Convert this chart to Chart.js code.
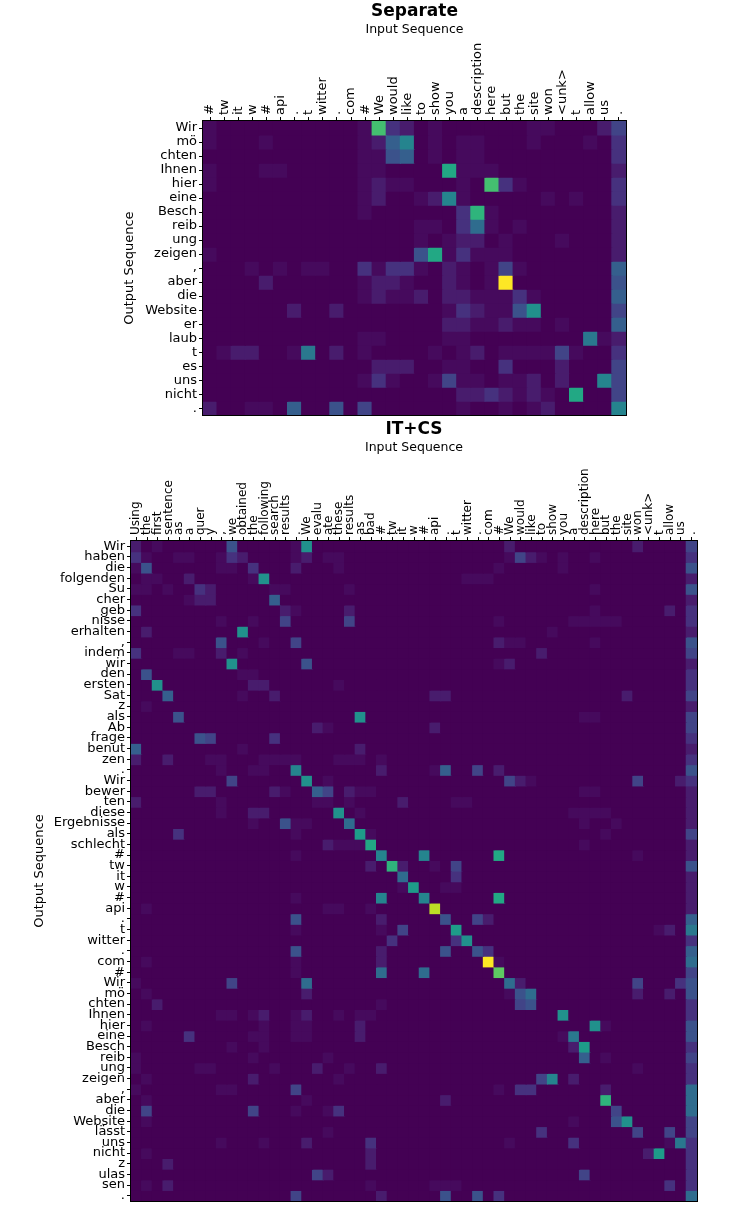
<!DOCTYPE html>
<html>
<head>
<meta charset="utf-8">
<script src="https://cdn.jsdelivr.net/npm/chart.js@4.4.0/dist/chart.umd.min.js"></script>
<style>
    body { margin: 0; background: #fff; width: 747px; height: 1214px; overflow: hidden; }
    canvas { position: absolute; left: 0; }
</style>
</head>
<body>
<canvas id="separate" width="747" height="425" style="top:0"></canvas>
<canvas id="itcs" width="747" height="814" style="top:400px"></canvas>
<script>
// Separate: tokens
const sepInput = ['#', 'tw', 'it', 'w', '#', 'api', '.', 't', 'witter', '.', 'com', '#', 'We', 'would', 'like', 'to', 'show', 'you', 'a', 'description', 'here', 'but', 'the', 'site', 'won', '<unk>', 't', 'allow', 'us', '.']
const sepOutput = ['Wir', 'mö', 'chten', 'Ihnen', 'hier', 'eine', 'Besch', 'reib', 'ung', 'zeigen', ',', 'aber', 'die', 'Website', 'er', 'laub', 't', 'es', 'uns', 'nicht', '.']

// IT+CS: tokens
const itcsInput = ['Using', 'the', 'first', 'sentence', 'as', 'a', 'quer', 'y', ',', 'we', 'obtained', 'the', 'following', 'search', 'results', '.', 'We', 'evalu', 'ate', 'these', 'results', 'as', 'bad', '#', 'tw', 'it', 'w', '#', 'api', '.', 't', 'witter', '.', 'com', '#', 'We', 'would', 'like', 'to', 'show', 'you', 'a', 'description', 'here', 'but', 'the', 'site', 'won', '<unk>', 't', 'allow', 'us', '.']
const itcsOutput = ['Wir', 'haben', 'die', 'folgenden', 'Su', 'cher', 'geb', 'nisse', 'erhalten', ',', 'indem', 'wir', 'den', 'ersten', 'Sat', 'z', 'als', 'Ab', 'frage', 'benut', 'zen', '.', 'Wir', 'bewer', 'ten', 'diese', 'Ergebnisse', 'als', 'schlecht', '#', 'tw', 'it', 'w', '#', 'api', '.', 't', 'witter', '.', 'com', '#', 'Wir', 'mö', 'chten', 'Ihnen', 'hier', 'eine', 'Besch', 'reib', 'ung', 'zeigen', ',', 'aber', 'die', 'Website', 'lässt', 'uns', 'nicht', 'z', 'ulas', 'sen', '.']

// attention weights, one char per cell
const LEVELS = '0123456789ABCDEFGHIJK'
const LEVEL_VALUES = [0, 0.025, 0.075, 0.14, 0.2, 0.25, 0.3, 0.35, 0.4, 0.45, 0.5,
    0.55, 0.6, 0.65, 0.7, 0.75, 0.8, 0.85, 0.9, 0.95, 1]

const sepWeights = [
    '1000000000 01E3201000 0001100024',
    '1000100000 0126901011 0001000103',
    '0000000000 0115601011 0000000003',
    '1000110000 0110000C11 1000000002',
    '1000000000 0121100010 E310000003',
    '0000000000 0120012910 0000101003',
    '0000000000 010000003D 1000000002',
    '0000000000 0000011037 1010000002',
    '0000000000 0000010122 0100010002',
    '1000000000 000005C131 1100000002',
    '0001010110 0313310210 1410000006',
    '0000200000 0122100210 1K00000005',
    '0000000000 0121120221 1131000006',
    '0000002002 0000000132 115A000004',
    '0000000000 0000000221 1211010006',
    '0000000000 0110000110 0000000812',
    '0122001802 0100001012 0111141003',
    '0000000000 0022200110 0300020004',
    '0000000000 0131001411 0112020094',
    '0000000000 0000000022 321210C004',
    '2001106005 0400000010 0101200009'
]

const itcsWeights = [
    '2010000005 000001A000 0000000000 0000020000 0000000200 004',
    '3100110013 2000012011 0000000000 0000014210 1001000000 003',
    '1500000011 0300020001 0000000000 0000100000 1000000000 005',
    '0110020000 01A0000000 0000000000 0111000000 0000000000 002',
    '1101003200 0001100000 1000000000 0000000000 0001000000 005',
    '0000012200 0006000000 0000000000 0000000000 0000000000 002',
    '3000000000 0000210000 2000000000 0000000000 0001000000 203',
    '0000000010 0100400000 4000000000 0000100000 0111110000 003',
    '0200000000 A000000000 0000000000 0000000001 0000000000 002',
    '0000000050 0010040000 0000000000 0000211000 0001000000 005',
    '3000110020 1000000000 0000000000 0000000020 0000000000 004',
    '000000000A 0000005000 0000000000 0000120000 0000000000 002',
    '0500000000 1100000000 0000000000 0000000000 0000000000 003',
    '00A0000000 0220000001 0000000000 0000000000 0000000000 003',
    '0006000000 1002000000 0000000022 0000000000 0000002000 004',
    '0100000000 0000000000 0000000000 0000000000 0000000000 002',
    '0000500000 0000000000 0A00000000 0000000000 0011000000 004',
    '0000000000 0000000210 0000000020 0000000000 0000000000 004',
    '0000005400 0003000000 0000000000 0000000000 0000000000 003',
    '6000000000 1000000000 0200000000 0000000000 0000000000 002',
    '2002000110 0011110001 1101000000 0000000000 0000000000 003',
    '0000000010 0110090000 0002000016 0040200000 0000000000 005',
    '0000000004 000000A010 0000000000 0000042100 0000000400 023',
    '0000002200 0002100640 2110000000 0000000000 0011000000 002',
    '2000000010 0000000110 1000020000 1100000000 0000000000 002',
    '0000000010 022000000A 0100000000 0000000000 0111100000 002',
    '0000000000 0100511000 7000000000 0000000000 0010010000 002',
    '0000300000 0000010000 0B10000000 0000000000 0000100000 004',
    '0000000000 0000000021 11C0000000 0000000000 0010000000 002',
    '0000000000 0000010000 0009000900 0000C00000 0000000100 002',
    '0000000000 0000000000 0020D20010 4000000000 0000000000 005',
    '0000000000 0000000000 0000070000 3000000000 0000000000 002',
    '0000000000 0000000000 000001B001 1000000000 0000000000 002',
    '0000000000 0000010000 0009000900 0000C00000 0000000000 002',
    '0100000000 0000000011 00100000I0 0000000000 0000000000 002',
    '0000000000 0000050000 0002000005 0042000000 0000000000 006',
    '0000000000 0000010000 0001040000 B000000000 0000000001 208',
    '0000000000 0000000000 0000300000 3A00000000 0000000000 003',
    '0000000000 0000050000 0002000005 0053000000 0000000000 006',
    '0100000000 0000010000 0002000000 000K100000 0000000000 007',
    '0000000000 0000010000 0007000700 0000F00000 0000000000 004',
    '1000000004 0000007000 0000000000 0000072000 0000000400 035',
    '0100000000 0000002000 0000000000 0000015700 0000000200 205',
    '0020000000 0000000000 0001000000 0000004500 0000000000 003',
    '0000000011 0120012001 0110000000 0000000000 A000000000 003',
    '0100000000 0010011000 0200000000 0000000000 000A100000 005',
    '0000030000 0110011000 0200000000 0000000000 1800000000 005',
    '0000000001 0010000000 0000000000 0000000000 02B0000000 003',
    '1000000000 0100000010 0000000000 0000000000 0060100000 004',
    '1000001100 0001000200 1002000000 0000000000 0000000100 003',
    '0100000000 0200000001 0000000000 0000000049 0200000000 003',
    '1000000011 0000040000 0000000000 0000103300 0000200000 007',
    '0100000000 0000001000 0000000002 0000000000 0000D00000 007',
    '0400000000 0400010013 0000000000 0000000000 0000040000 007',
    '0100000000 0000000000 0000000000 0000000000 010005A000 004',
    '0000000000 0000000010 0000000000 0000000030 0000000400 404',
    '0000000010 0010002000 0030000000 0000010000 0300000000 183',
    '0100000000 0000000000 0020000000 0000000000 000000002B 003',
    '0002000000 0000000000 0020000000 0000000000 0000000000 003',
    '0000000000 0000000420 0000000000 0000000000 0040000000 003',
    '0102000000 0000000000 0010000011 1000000000 0000000000 303',
    '0000000000 0000040000 0002000005 0050300000 0000000000 007'
]

// viridis sampled every 0.05
const VIRIDIS = ['#440154', '#471365', '#482475', '#463480', '#414487', '#3b528b', '#355f8d',
    '#2f6c8e', '#2a788e', '#25848e', '#21918c', '#1e9c89', '#22a884', '#2fb47c', '#44bf70',
    '#5ec962', '#7ad151', '#9bd93c', '#bddf26', '#dfe318', '#fde725']

const parseWeights = rows => rows.map(row =>
    row.replace(/ /g, '').split('').map(ch => LEVEL_VALUES[LEVELS.indexOf(ch)]))

const hexToRgb = h => [1, 3, 5].map(i => parseInt(h.slice(i, i + 2), 16))

function viridis(v) {
    const t = Math.max(0, Math.min(1, v)) * 20
    const i = Math.min(19, Math.floor(t))
    const f = t - i
    const a = hexToRgb(VIRIDIS[i])
    const b = hexToRgb(VIRIDIS[i + 1])
    const c = a.map((x, k) => Math.round(x + (b[k] - x) * f))
    return `rgb(${c[0]}, ${c[1]}, ${c[2]})`
}

const FONT = '"DejaVu Sans", Verdana, sans-serif'

// frame round the cells + the two lines of title above the plot
const frameAndTitles = {
    id: 'frameAndTitles',
    afterDraw(chart, args, opts) {
        const { ctx, chartArea: a } = chart
        ctx.save()
        ctx.strokeStyle = '#000'
        ctx.lineWidth = 1
        ctx.strokeRect(Math.round(a.left) - 0.5, Math.round(a.top) - 0.5, Math.round(a.width) + 1, Math.round(a.height) + 1)
        ctx.fillStyle = '#000'
        ctx.textAlign = 'center'
        ctx.textBaseline = 'middle'
        const cx = (a.left + a.right) / 2
        ctx.font = `bold 17px ${FONT}`
        ctx.fillText(opts.title, cx, opts.titleY)
        ctx.font = `12.5px ${FONT}`
        ctx.fillText('Input Sequence', cx, opts.subY)
        ctx.restore()
    }
}

function drawHeatmap(id, cfg) {
    const weights = parseWeights(cfg.weights)
    const datasets = weights.map((row, r) => ({
        label: cfg.yLabels[r],
        data: cfg.xLabels.map(() => 1),
        backgroundColor: row.map(viridis),
        borderWidth: 0,
        inflateAmount: 0.6,
        barPercentage: 1,
        categoryPercentage: 1,
        stack: 'cells'
    }))
    new Chart(document.getElementById(id), {
        type: 'bar',
        data: { labels: cfg.xLabels, datasets },
        plugins: [frameAndTitles],
        options: {
            responsive: false,
            animation: false,
            layout: { padding: cfg.padding },
            plugins: {
                legend: { display: false },
                tooltip: { enabled: false },
                frameAndTitles: { title: cfg.title, titleY: cfg.titleY, subY: cfg.subY }
            },
            scales: {
                x: {
                    position: 'top',
                    stacked: true,
                    grid: { drawOnChartArea: false, offset: false, tickLength: 4, color: '#000' },
                    border: { display: false },
                    ticks: {
                        autoSkip: false, maxRotation: 90, minRotation: 90, padding: 2,
                        // rotated labels on a top axis sit one line left of the tick
                        labelOffset: cfg.xFont * 1.2,
                        color: '#000', font: { family: FONT, size: cfg.xFont }
                    },
                    afterFit: s => { s.height = cfg.xHeight }
                },
                y: {
                    type: 'linear',
                    min: 0,
                    max: cfg.yLabels.length,
                    reverse: true,
                    stacked: true,
                    afterBuildTicks: s => { s.ticks = cfg.yLabels.map((_, i) => ({ value: i + 0.5 })) },
                    grid: { drawOnChartArea: false, tickLength: 4, color: '#000' },
                    border: { display: false },
                    ticks: {
                        autoSkip: false, padding: 2, color: '#000',
                        font: { family: FONT, size: cfg.yFont },
                        callback: (v, i) => cfg.yLabels[i]
                    },
                    title: { display: true, text: 'Output Sequence', color: '#000', padding: 0, font: { family: FONT, size: 13 } },
                    afterFit: s => { s.width = cfg.yWidth }
                }
            }
        }
    })
}

drawHeatmap('separate', {
    title: 'Separate', titleY: 12, subY: 30,
    xLabels: sepInput, yLabels: sepOutput, weights: sepWeights,
    padding: { left: 122, right: 121, top: 0, bottom: 8 },
    xHeight: 121, yWidth: 81, xFont: 13, yFont: 13
})

drawHeatmap('itcs', {
    title: 'IT+CS', titleY: 30, subY: 48,
    xLabels: itcsInput, yLabels: itcsOutput, weights: itcsWeights,
    padding: { left: 32, right: 50, top: 0, bottom: 13 },
    xHeight: 141, yWidth: 99, xFont: 12, yFont: 13
})
</script>
</body>
</html>
